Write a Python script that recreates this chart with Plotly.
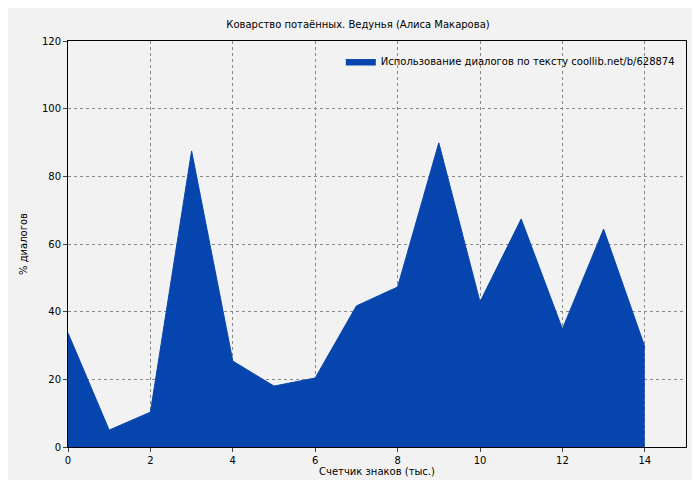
import plotly.graph_objects as go

x_vals = list(range(15))
y_vals = [33.7, 5.0, 10.3, 87.5, 25.4, 18.0, 20.4, 41.7, 47.3, 89.9, 42.9, 67.4, 34.9, 64.4, 29.6]
title = "Коварство потаённых. Ведунья (Алиса Макарова)"
series_name = "Использование диалогов по тексту coollib.net/b/628874"

fig = go.Figure()
fig.add_trace(go.Scatter(x=x_vals, y=y_vals, fill="tozeroy", mode="lines",
                         line=dict(color="#0745ae", width=1), fillcolor="#0745ae",
                         name=series_name))
fig.update_layout(
    width=700, height=480,
    paper_bgcolor="#f2f2f2", plot_bgcolor="#f2f2f2",
    margin=dict(l=60, r=22, t=33, b=41, autoexpand=False),
    font=dict(family="DejaVu Sans", size=10, color="black"),
    title=dict(text=title, x=0.5, xanchor="center", y=0.966, yanchor="middle", font=dict(size=10)),
    showlegend=True,
    legend=dict(x=0.99, y=0.985, xanchor="right", yanchor="top", bgcolor="rgba(0,0,0,0)",
                font=dict(size=10), itemwidth=30),
)
axis_common = dict(showgrid=True, gridcolor="#888", griddash="dot", gridwidth=1,
                   showline=True, linecolor="black", mirror=True, ticks="outside",
                   ticklen=4, zeroline=False, automargin=False, tickfont=dict(size=10))
fig.update_xaxes(range=[0, 15], dtick=2, title_text="Счетчик знаков (тыс.)",
                 title_font=dict(size=10), title_standoff=2, **axis_common)
fig.update_yaxes(range=[0, 120], dtick=20, title_text="% диалогов",
                 title_font=dict(size=10), title_standoff=12, **axis_common)
fig.write_html("out.html")
